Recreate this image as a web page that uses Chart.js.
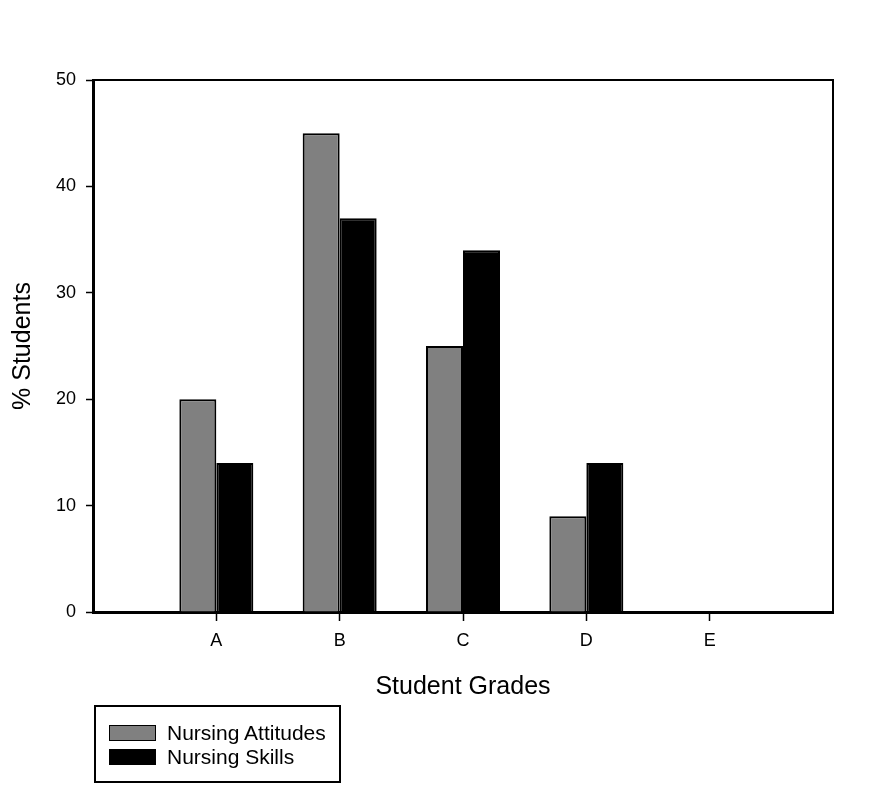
<!DOCTYPE html>
<html>
<head>
<meta charset="utf-8">
<script src="https://cdn.jsdelivr.net/npm/chart.js@4.4.0/dist/chart.umd.min.js"></script>
<style>
  body { margin: 0; background: #fff; }
  #wrap { position: relative; width: 877px; height: 790px; }
  #legendBox {
    position: absolute; left: 94px; top: 705px; width: 243px; height: 60px;
    border: 2px solid #000; font-family: "Liberation Sans", Arial, sans-serif; font-size: 21px;
    padding-top: 14px; box-sizing: content-box;
  }
  #legendBox div { display: flex; align-items: center; height: 24px; margin-left: 13px; }
  #legendBox span.sw { display: inline-block; width: 45px; height: 14px; border: 1.5px solid #000; margin-right: 11px; }
</style>
</head>
<body>
<div id="wrap">
  <canvas id="myChart" width="877" height="790"></canvas>
  <div id="legendBox"></div>
</div>
<script>
// data
var grades = ['A', 'B', 'C', 'D', 'E'];
var nursingAttitudes = [20, 45, 25, 9, 0];
var nursingSkills = [14, 37, 34, 14, 0];
var yTicks = [0, 10, 20, 30, 40, 50];

var seriesNames = ['Nursing Attitudes', 'Nursing Skills'];
var seriesColors = ['#808080', '#000000'];

// empty slot on each side so the grades sit at 1..5 of 0..6
var xLabels = [''].concat(grades, ['']);
function pad(arr) { return [null].concat(arr, [null]); }

var fontName = '"Liberation Sans", Arial, sans-serif';

const framePlugin = {
    id: 'frame',
    afterDraw(chart) {
        var a = chart.chartArea;
        var c = chart.ctx;
        c.save();
        c.strokeStyle = '#000';
        c.lineWidth = 2;
        c.beginPath();
        c.moveTo(a.left, a.top);
        c.lineTo(a.right, a.top);
        c.lineTo(a.right, a.bottom);
        c.stroke();
        c.restore();
    }
};

var ctx = document.getElementById('myChart').getContext('2d');
var myChart = new Chart(ctx, {
    type: 'bar',
    data: {
        labels: xLabels,
        datasets: [{
            label: seriesNames[0],
            data: pad(nursingAttitudes),
            backgroundColor: seriesColors[0],
            borderColor: '#000',
            borderWidth: 2,
            borderSkipped: 'start'
        }, {
            label: seriesNames[1],
            data: pad(nursingSkills),
            backgroundColor: seriesColors[1],
            borderColor: '#000',
            borderWidth: 2,
            borderSkipped: 'start'
        }]
    },
    options: {
        responsive: false,
        animation: false,
        categoryPercentage: 0.6,
        barPercentage: 1,
        layout: { padding: { top: 80, right: 44, left: 8, bottom: 88 } },
        plugins: {
            legend: { display: false },
            tooltip: { enabled: false }
        },
        scales: {
            x: {
                offset: false,
                grid: {
                    offset: false,
                    drawOnChartArea: false,
                    tickLength: 9,
                    tickWidth: 1.5,
                    tickColor: function (c) { return (c.index > 0 && c.index < xLabels.length - 1) ? '#000' : 'rgba(0,0,0,0)'; }
                },
                border: { color: '#000', width: 3 },
                ticks: { color: '#000', padding: 9, font: { family: fontName, size: 18 }, autoSkip: false, maxRotation: 0 },
                title: { display: true, text: 'Student Grades', color: '#000', font: { family: fontName, size: 25 }, padding: 0 },
                afterFit: function (s) { s.height = 90; }
            },
            y: {
                min: 0,
                max: 50,
                afterBuildTicks: function (s) { s.ticks = yTicks.map(function (v) { return { value: v }; }); },
                grid: { drawOnChartArea: false, tickLength: 7, tickWidth: 1.5, tickColor: '#000' },
                border: { color: '#000', width: 3 },
                ticks: { color: '#000', padding: 10, font: { family: fontName, size: 18 } },
                title: { display: true, text: '% Students', color: '#000', font: { family: fontName, size: 25 }, padding: 0 },
                afterFit: function (s) { s.width = 85; }
            }
        }
    },
    plugins: [framePlugin]
});

// legend box under the chart
var legendBox = document.getElementById('legendBox');
myChart.data.datasets.forEach(function (ds) {
    var row = document.createElement('div');
    var sw = document.createElement('span');
    sw.className = 'sw';
    sw.style.background = ds.backgroundColor;
    row.appendChild(sw);
    row.appendChild(document.createTextNode(ds.label));
    legendBox.appendChild(row);
});
</script>
</body>
</html>
